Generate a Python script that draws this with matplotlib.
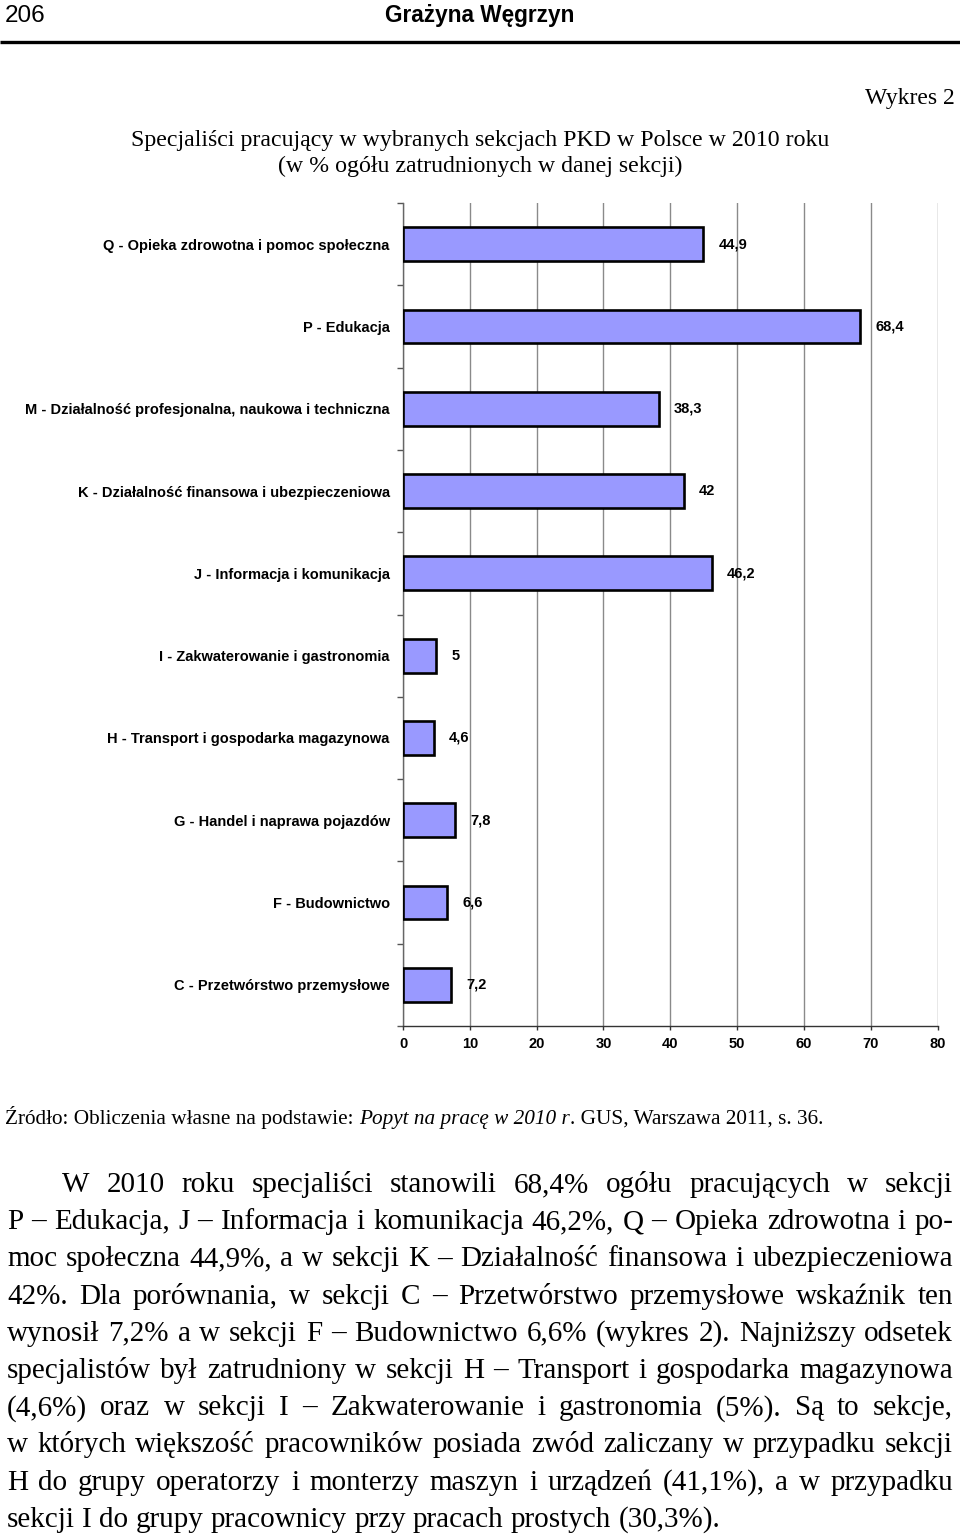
import matplotlib
matplotlib.use("Agg")
import matplotlib.pyplot as plt
from matplotlib.ticker import FixedLocator

# ---------------- data ----------------
categories = [
    "C - Przetwórstwo przemysłowe",
    "F - Budownictwo",
    "G - Handel i naprawa pojazdów",
    "H - Transport i gospodarka magazynowa",
    "I - Zakwaterowanie i gastronomia",
    "J - Informacja i komunikacja",
    "K - Działalność finansowa i ubezpieczeniowa",
    "M - Działalność profesjonalna, naukowa i techniczna",
    "P - Edukacja",
    "Q - Opieka zdrowotna i pomoc społeczna",
]
values = [7.2, 6.6, 7.8, 4.6, 5.0, 46.2, 42.0, 38.3, 68.4, 44.9]
x_ticks = [0, 10, 20, 30, 40, 50, 60, 70, 80]

page_number = "206"
author = "Grażyna Węgrzyn"
chart_no = "Wykres 2"
title_lines = [
    "Specjaliści pracujący w wybranych sekcjach PKD w Polsce w 2010 roku",
    "(w % ogółu zatrudnionych w danej sekcji)",
]
source_parts = [
    ("Źródło: Obliczenia własne na podstawie: ", "normal"),
    ("Popyt na pracę w 2010 r", "italic"),
    (". GUS, Warszawa 2011, s. 36.", "normal"),
]
body_lines = [
    "W 2010 roku specjaliści stanowili 68,4% ogółu pracujących w sekcji",
    "P – Edukacja, J – Informacja i komunikacja 46,2%, Q – Opieka zdrowotna i po-",
    "moc społeczna 44,9%, a w sekcji K – Działalność finansowa i ubezpieczeniowa",
    "42%. Dla porównania, w sekcji C – Przetwórstwo przemysłowe wskaźnik ten",
    "wynosił 7,2% a w sekcji F – Budownictwo 6,6% (wykres 2). Najniższy odsetek",
    "specjalistów był zatrudniony w sekcji H – Transport i gospodarka magazynowa",
    "(4,6%) oraz w sekcji I – Zakwaterowanie i gastronomia (5%). Są to sekcje,",
    "w których większość pracowników posiada zwód zaliczany w przypadku sekcji",
    "H do grupy operatorzy i monterzy maszyn i urządzeń (41,1%), a w przypadku",
    "sekcji I do grupy pracownicy przy pracach prostych (30,3%).",
]

# ---------------- figure ----------------
W, H = 960, 1537
fig = plt.figure(figsize=(W / 100, H / 100), dpi=100)
fig.patch.set_facecolor("white")

# page overlay in pixel coordinates
ax0 = fig.add_axes([0, 0, 1, 1], zorder=0)
ax0.set_xlim(0, W)
ax0.set_ylim(H, 0)
ax0.axis("off")
renderer = fig.canvas.get_renderer()

SANS = "Liberation Sans"
SERIF = "Liberation Serif"

# header
ax0.text(5, 22, page_number, fontsize=17.5, family=SANS, ha="left", va="baseline")
ax0.text(480, 22, author, fontsize=16.3, family=SANS, weight="bold",
         ha="center", va="baseline")
ax0.plot([0, W], [42, 42], color="black", lw=2.4, solid_capstyle="butt")

# chart number and title
ax0.text(955, 104, chart_no, fontsize=17, family=SERIF, ha="right", va="baseline")
ax0.text(480, 146, title_lines[0], fontsize=17.2, family=SERIF, ha="center", va="baseline")
ax0.text(480, 172, title_lines[1], fontsize=17.2, family=SERIF, ha="center", va="baseline")


def text_width(s, **kw):
    t = ax0.text(0, 0, s, **kw)
    w = t.get_window_extent(renderer).width
    t.remove()
    return w


# source line with italic part
src_kw = dict(fontsize=15.3, family=SERIF, va="baseline", ha="left")
x = 5
space_w = text_width("x x", **src_kw) - text_width("xx", **src_kw)
for txt, style in source_parts:
    core = txt.rstrip(" ")
    ax0.text(x, 1124, core, style=style, **src_kw)
    x += text_width(core, style=style, **src_kw)
    if txt.endswith(" "):
        x += space_w

# body paragraph, justified
body_kw = dict(fontsize=21, family=SERIF, va="baseline", ha="left")
left_x, right_x = 7, 953
indent_x = 62
base0, step = 1192, 37.2
body_space = text_width("x x", **body_kw) - text_width("xx", **body_kw)
for i, line in enumerate(body_lines):
    y = base0 + i * step
    words = line.split(" ")
    widths = [text_width(w, **body_kw) for w in words]
    x0 = indent_x if i == 0 else left_x
    if i == len(body_lines) - 1:
        gap = body_space
    else:
        gap = (right_x - x0 - sum(widths)) / (len(words) - 1)
    xx = x0
    for w, wd in zip(words, widths):
        ax0.text(xx, y, w, **body_kw)
        xx += wd + gap

# ---------------- bar chart ----------------
ax = fig.add_axes([403 / W, (H - 1026) / H, (937.5 - 403) / W, (1026 - 203) / H], zorder=1)
ax.set_facecolor("none")
ypos = list(range(len(categories)))
ax.barh(ypos, values, height=0.41, color="#9999FF", edgecolor="black",
        linewidth=1.9, zorder=3)
ax.set_xlim(0, 80)
ax.set_ylim(-0.5, len(categories) - 0.5)

lab_font = dict(family=SANS, weight="bold", size=10.5)
for yv, v in zip(ypos, values):
    lbl = f"{v:g}".replace(".", ",")
    ax.annotate(lbl, xy=(v, yv), xytext=(11, 0), textcoords="offset points",
                ha="left", va="center", **lab_font, zorder=4)

ax.set_yticks(ypos)
ax.set_yticklabels(categories, fontdict=lab_font)
ax.yaxis.set_minor_locator(FixedLocator([i - 0.5 for i in range(len(categories) + 1)]))
ax.tick_params(axis="y", which="major", length=0, pad=9.5)
ax.tick_params(axis="y", which="minor", length=4, width=1, color="#555555", direction="out")

ax.set_xticks(x_ticks)
ax.set_xticklabels([str(t) for t in x_ticks], fontdict=lab_font)
ax.tick_params(axis="x", which="major", length=3, width=1, color="#333333",
               direction="out", pad=5)
ax.grid(axis="x", color="#8a8a8a", lw=1, zorder=0)
ax.set_axisbelow(True)

for s in ["top", "right"]:
    ax.spines[s].set_visible(False)
ax.spines["left"].set_color("#666666")
ax.spines["left"].set_linewidth(1)
ax.spines["bottom"].set_color("#333333")
ax.spines["bottom"].set_linewidth(1)

fig.savefig("out.png", dpi=100, facecolor="white")
